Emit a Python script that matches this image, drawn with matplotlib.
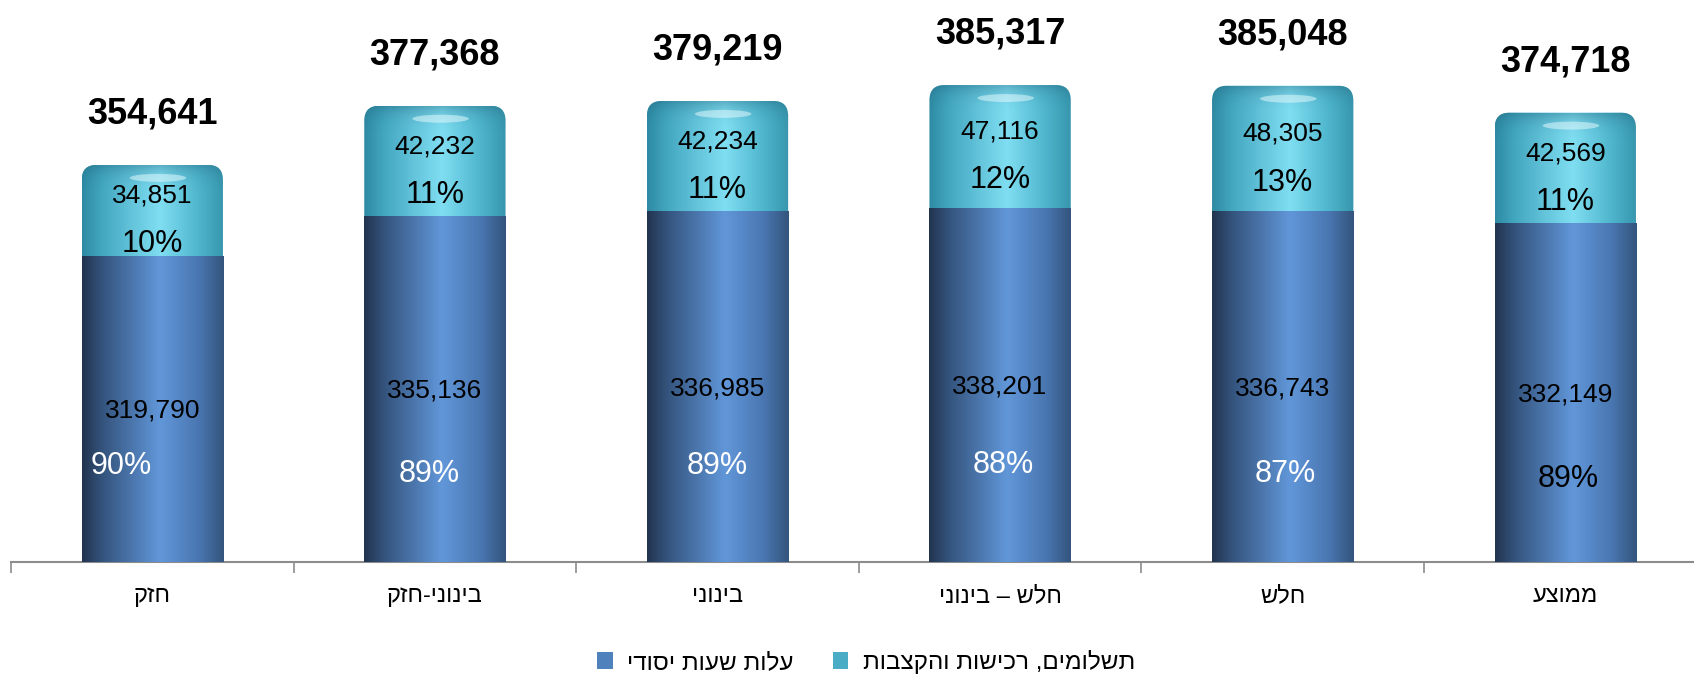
import numpy as np
import matplotlib
matplotlib.use("Agg")
import matplotlib.pyplot as plt
from matplotlib.patches import FancyBboxPatch, Ellipse, Patch
from matplotlib.colors import LinearSegmentedColormap

plt.rcParams['font.family'] = ['Liberation Sans', 'DejaVu Sans']

# ---------------- data ----------------
categories = ["חזק", "בינוני-חזק", "בינוני", "חלש – בינוני", "חלש", "ממוצע"]
base_hours = [319790, 335136, 336985, 338201, 336743, 332149]
payments = [34851, 42232, 42234, 47116, 48305, 42569]
totals = [354641, 377368, 379219, 385317, 385048, 374718]
base_pct = ["90%", "89%", "89%", "88%", "87%", "89%"]
pay_pct = ["10%", "11%", "11%", "12%", "13%", "11%"]
series_names = ["עלות שעות יסודי", "תשלומים, רכישות והקצבות"]

# ---------------- style ----------------
base_pct_colors = ["white", "white", "white", "white", "white", "black"]
base_pct_dx = [-22, -4, 0, 2, 2, 2]        # points
base_pct_dy = [-40, -60, -56, -56, -61, -61]  # points
y_min, y_max = 202000, 418000


def vis(s):
    # matplotlib lays text out left-to-right; reverse Hebrew for visual order
    return s[::-1]


blue_cmap = LinearSegmentedColormap.from_list(
    "blue", [(0.0, "#22344f"), (0.15, "#35557f"), (0.55, "#6197d9"),
             (0.82, "#4a77b2"), (1.0, "#34557d")])
cyan_cmap = LinearSegmentedColormap.from_list(
    "cyan", [(0.0, "#2e8aa3"), (0.15, "#45a9c2"), (0.55, "#80def2"),
             (0.82, "#4fb6cd"), (1.0, "#3796ad")])

W, H, DPI = 1694, 677, 100
fig = plt.figure(figsize=(W / DPI, H / DPI), dpi=DPI)
fig.patch.set_facecolor("white")

cat_px = 282.6
ax_left, ax_bottom_px, ax_h_px = 11, 115, 562
ax = fig.add_axes([ax_left / W, ax_bottom_px / H, 6 * cat_px / W, ax_h_px / H])
ax.set_facecolor("none")

x = np.arange(len(categories))
bw = 0.5

px_per_x = cat_px
px_per_y = ax_h_px / (y_max - y_min)
r_px = 15
r_x = r_px / px_per_x
r_y = r_px / px_per_y

grad = np.linspace(0, 1, 256).reshape(1, -1)

# top segment (payments) - drawn as bar, then rendered as rounded cylinder cap
top_bars = ax.bar(x, payments, bw, bottom=base_hours, color="none",
                  edgecolor="none", zorder=1)
for rect in top_bars:
    x0, y0 = rect.get_x(), rect.get_y()
    w, h = rect.get_width(), rect.get_height()
    cap = FancyBboxPatch((x0, y0 - r_y), w, h + r_y,
                         boxstyle=f"round,pad=0,rounding_size={r_x}",
                         mutation_aspect=r_y / r_x,
                         facecolor="none", edgecolor="none", zorder=2)
    ax.add_patch(cap)
    im = ax.imshow(grad, extent=[x0, x0 + w, y0 - r_y, y0 + h],
                   aspect="auto", cmap=cyan_cmap, zorder=2,
                   interpolation="bilinear")
    im.set_clip_path(cap)
    # top rim shading
    rim = np.linspace(1, 0, 64).reshape(-1, 1)
    rim_rgba = np.zeros((64, 1, 4))
    rim_rgba[..., 0] = 0.1
    rim_rgba[..., 1] = 0.35
    rim_rgba[..., 2] = 0.45
    rim_rgba[..., 3] = np.clip(rim, 0, 1) ** 3 * 0.35
    im2 = ax.imshow(rim_rgba, extent=[x0, x0 + w, y0 + h - 2.2 * r_y, y0 + h],
                    aspect="auto", zorder=2.1, interpolation="bilinear")
    im2.set_clip_path(cap)
    # glossy highlight
    hl = Ellipse((x0 + w * 0.54, y0 + h - 13 / px_per_y), w * 0.4,
                 8 / px_per_y, facecolor="#eafcff", edgecolor="none",
                 alpha=0.5, zorder=2.2)
    ax.add_patch(hl)

# bottom segment (base hours)
base_bars = ax.bar(x, base_hours, bw, color="none", edgecolor="none", zorder=3)
for rect in base_bars:
    x0 = rect.get_x()
    w, h = rect.get_width(), rect.get_height()
    im = ax.imshow(grad, extent=[x0, x0 + w, y_min, h], aspect="auto",
                   cmap=blue_cmap, zorder=3, interpolation="bilinear")
    im.set_clip_path(rect)

ax.set_xlim(-0.5, 5.5)
ax.set_ylim(y_min, y_max)

# labels
for i in range(len(x)):
    ax.annotate(f"{totals[i]:,}", (x[i], totals[i]), xytext=(0, 36.5),
                textcoords="offset points", ha="center", va="center",
                fontsize=26, fontweight="bold", color="black", zorder=5)
    yc_top = base_hours[i] + payments[i] / 2
    ax.annotate(f"{payments[i]:,}", (x[i], yc_top), xytext=(0, 10.5),
                textcoords="offset points", ha="center", va="center",
                fontsize=19, color="black", zorder=5)
    ax.annotate(pay_pct[i], (x[i], yc_top), xytext=(0, -24.5),
                textcoords="offset points", ha="center", va="center",
                fontsize=22, color="black", zorder=5)
    yc_base = (y_min + base_hours[i]) / 2
    ax.annotate(f"{base_hours[i]:,}", (x[i], yc_base), xytext=(0, -1.5),
                textcoords="offset points", ha="center", va="center",
                fontsize=19, color="black", zorder=5)
    ax.annotate(base_pct[i], (x[i], yc_base),
                xytext=(base_pct_dx[i], base_pct_dy[i] - 1.5),
                textcoords="offset points", ha="center", va="center",
                fontsize=22, color=base_pct_colors[i], zorder=5)

# axes styling
for s in ["left", "right", "top"]:
    ax.spines[s].set_visible(False)
ax.spines["bottom"].set_color("#8c8c8c")
ax.spines["bottom"].set_linewidth(1.5)
ax.set_yticks([])
ax.set_xticks(x, [vis(c) for c in categories])
ax.set_xticks(np.arange(-0.5, 6.0, 1.0), minor=True)
ax.tick_params(axis="x", which="major", length=0, pad=16.5, labelsize=17)
ax.tick_params(axis="x", which="minor", length=8, width=1.2, color="#8c8c8c")

handles = [Patch(facecolor="#4f81bd"), Patch(facecolor="#4bacc6")]
fig.legend(handles, [vis(n) for n in series_names], loc="center",
           bbox_to_anchor=(866 / W, 1 - 662 / H), ncol=2, frameon=False,
           fontsize=17.5, handlelength=0.65, handleheight=0.65,
           handletextpad=0.6, columnspacing=1.6)

fig.savefig("out.png", dpi=DPI)
